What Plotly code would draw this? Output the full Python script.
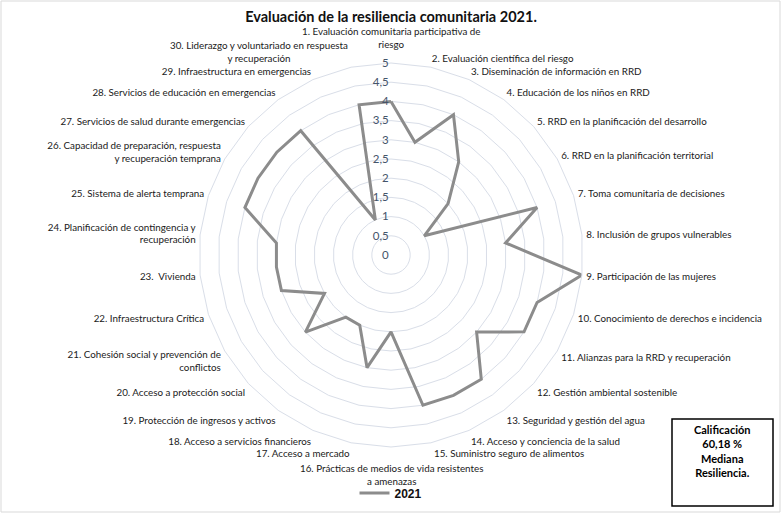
import math
import plotly.graph_objects as go

categories = [
    "1. Evaluación comunitaria participativa de<br>riesgo",
    "2. Evaluación científica del riesgo",
    "3. Diseminación de información en RRD",
    "4. Educación de los niños en RRD",
    "5. RRD en la planificación del desarrollo",
    "6. RRD en la planificación territorial",
    "7. Toma comunitaria de decisiones",
    "8. Inclusión de grupos vulnerables",
    "9. Participación de las mujeres",
    "10. Conocimiento de derechos e incidencia",
    "11. Alianzas para la RRD y recuperación",
    "12. Gestión ambiental sostenible",
    "13. Seguridad y gestión del agua",
    "14. Acceso y conciencia de la salud",
    "15. Suministro seguro de alimentos",
    "16. Prácticas de medios de vida resistentes<br>a amenazas",
    "17. Acceso a mercado",
    "18. Acceso a servicios financieros",
    "19. Protección de ingresos y activos",
    "20. Acceso a protección social",
    "21. Cohesión social y prevención de<br>conflictos",
    "22. Infraestructura Crítica",
    "23.  Vivienda",
    "24. Planificación de contingencia y<br>recuperación",
    "25. Sistema de alerta temprana",
    "26. Capacidad de preparación, respuesta<br>y recuperación temprana",
    "27. Servicios de salud durante emergencias",
    "28. Servicios de educación en emergencias",
    "29. Infraestructura en emergencias",
    "30. Liderazgo y voluntariado en respuesta<br>y recuperación",
]
values_2021 = [4, 3, 4, 3, 2, 1, 4, 3, 5, 4, 4, 3, 4, 4, 4, 2, 3, 2, 2, 3,
               2, 3, 3, 3, 4, 4, 4, 4, 1, 4]
series_name = "2021"
radial_ticks = [0, 0.5, 1, 1.5, 2, 2.5, 3, 3.5, 4, 4.5, 5]
radial_ticktext = ["0", "0,5", "1", "1,5", "2", "2,5", "3", "3,5", "4", "4,5", "5"]
title_text = "Evaluación de la resiliencia comunitaria 2021."
box_text = "Calificación<br>60,18 %<br>Mediana<br>Resiliencia."

W, H = 783, 516
cx, cy, R = 391, 255, 192

# labels placed by hand-tuned anchors (index: xanchor, yanchor, dx, dy in px from outer vertex)
custom_labels = {
    0: ("center", "bottom", 0, -11),
    14: ("left", "middle", 1, 10),
    15: ("center", "top", 0, 13),
    16: ("right", "middle", 1, 10),
    29: ("right", "middle", -1, -16),
}

fig = go.Figure()
fig.add_trace(go.Scatterpolar(
    r=values_2021 + values_2021[:1],
    theta=categories + categories[:1],
    mode="lines",
    name="<b>" + series_name + "</b>",
    line=dict(color="#8c8c8c", width=3),
))

tick_text = ["" if i in custom_labels else c for i, c in enumerate(categories)]
lab_font = dict(family="Lato", size=9.8, color="#1a1a1a")

grid_c = "#d9dee8"
fig.update_layout(
    width=W, height=H,
    margin=dict(l=0, r=0, t=0, b=0),
    paper_bgcolor="white",
    font=lab_font,
    title=dict(text="<b>" + title_text + "</b>", x=cx / W, xanchor="center",
               y=1 - 17 / H, yanchor="middle",
               font=dict(family="Lato", size=14.5, color="#111111")),
    polar=dict(
        domain=dict(x=[(cx - R) / W, (cx + R) / W],
                    y=[(H - cy - R) / H, (H - cy + R) / H]),
        bgcolor="white",
        gridshape="linear",
        angularaxis=dict(direction="clockwise", rotation=90,
                         showgrid=False, showline=True, linecolor=grid_c,
                         linewidth=1, ticks="outside", ticklen=2,
                         tickcolor="rgba(0,0,0,0)",
                         tickmode="array", tickvals=categories, ticktext=tick_text,
                         tickfont=lab_font),
        radialaxis=dict(range=[0, 5], tickvals=radial_ticks, ticktext=radial_ticktext,
                        showline=False, gridcolor=grid_c, gridwidth=1,
                        ticks="", angle=90, side="counterclockwise", tickangle=90,
                        tickfont=dict(family="Lato", size=11.5, color="#44546a")),
    ),
    showlegend=True,
    legend=dict(orientation="h", x=cx / W, xanchor="center", y=1 - 493 / H, yanchor="middle",
                font=dict(family="Liberation Sans", size=12, color="#111111"),
                bgcolor="rgba(0,0,0,0)"),
)

n = len(categories)
for i, (xa, ya, dx, dy) in custom_labels.items():
    ang = 2 * math.pi * i / n
    px = cx + R * math.sin(ang) + dx
    py = cy - R * math.cos(ang) + dy
    fig.add_annotation(x=px / W, y=1 - py / H, xref="paper", yref="paper",
                       xanchor=xa, yanchor=ya, showarrow=False, align="center",
                       text=categories[i], font=lab_font)

fig.add_annotation(
    x=(672 + 773) / 2 / W, y=1 - 421 / H, xref="paper", yref="paper",
    xanchor="center", yanchor="top", showarrow=False,
    text="<b>" + box_text + "</b>", align="center",
    font=dict(family="Lato", size=11, color="#000000"),
)
fig.add_shape(type="rect", xref="paper", yref="paper",
              x0=672 / W, x1=773 / W, y0=1 - 506 / H, y1=1 - 419 / H,
              line=dict(color="black", width=1.5), fillcolor="rgba(0,0,0,0)")
fig.add_shape(type="rect", xref="paper", yref="paper",
              x0=1 / W, x1=780 / W, y0=1 - 512 / H, y1=1 - 1 / H,
              line=dict(color="#d9d9d9", width=1), fillcolor="rgba(0,0,0,0)")

fig.write_html("out.html", config={"displayModeBar": False},
               post_script="document.body.style.margin='0';document.body.style.overflow='hidden';")
